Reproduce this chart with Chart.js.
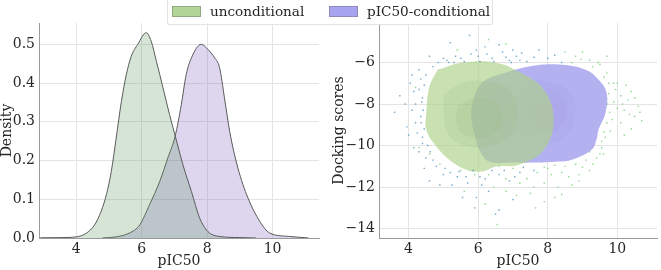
<!DOCTYPE html>
<html>
<head>
<meta charset="utf-8">
<script src="https://cdn.jsdelivr.net/npm/chart.js@4/dist/chart.umd.min.js"></script>
<style>
  html, body { margin: 0; padding: 0; background: #fff; }
  #wrap { position: relative; width: 661px; height: 270px; font-family: "DejaVu Serif", serif; }
  canvas { position: absolute; top: 0; }
  #left { left: 0; }
  #right { left: 330px; }
  #legend {
    position: absolute; left: 167px; top: 0; width: 324px; height: 24px;
    border: 1px solid #e2e2e2; border-top: none; border-radius: 0 0 3px 3px;
    background: rgba(255,255,255,0.85); z-index: 2;
    font-size: 13.6px; color: #262626; line-height: 22px;
  }
  .patch { position: absolute; top: 6px; width: 27px; height: 9px; border: 1px solid rgba(90,90,90,0.35); }
  .lbl { position: absolute; top: 0; white-space: nowrap; }
</style>
</head>
<body>
<div id="wrap">
  <canvas id="left" width="330" height="270"></canvas>
  <canvas id="right" width="331" height="270"></canvas>
  <div id="legend">
    <div class="patch" style="left:4px;background:#b3d598"></div>
    <div class="lbl" style="left:42px">unconditional</div>
    <div class="patch" style="left:161px;background:#a9a4ef"></div>
    <div class="lbl" style="left:199px">pIC50-conditional</div>
  </div>
</div>
<script>
const FONT = "DejaVu Serif";
const INK = "#262626";

// left panel: KDE of pIC50 (x, density)
const uncondKde = [[2.9,0.0005],[3.5,0.001],[4.0,0.003],[4.3,0.012],[4.56,0.034],[4.76,0.069],[4.92,0.112],
  [5.07,0.172],[5.22,0.258],[5.38,0.353],[5.53,0.422],[5.68,0.469],[5.88,0.50],[6.14,0.53],[6.29,0.508],
  [6.45,0.456],[6.65,0.388],[6.85,0.319],[7.02,0.265],[7.26,0.189],[7.52,0.12],[7.77,0.052],[8.02,0.017],
  [8.38,0.004],[9.0,0.001],[9.5,0.0]];
const condKde = [[4.8,0.0],[5.22,0.003],[5.63,0.013],[5.94,0.034],[6.24,0.086],[6.55,0.146],[6.8,0.207],
  [7.02,0.262],[7.21,0.344],[7.36,0.422],[7.52,0.465],[7.82,0.50],[8.02,0.487],[8.23,0.465],[8.38,0.44],
  [8.53,0.362],[8.69,0.275],[8.94,0.181],[9.25,0.103],[9.61,0.043],[9.91,0.013],[10.52,0.004],[11.1,0.0]];
const densityTicks = [0, 0.1, 0.2, 0.3, 0.4, 0.5];
const pic50Ticks = [4, 6, 8, 10];
const dockTicks = [-14, -12, -10, -8, -6];

// right panel: sparse scatter points (pIC50, docking score)
const tealPts = [[3.75,-7.6],[3.6,-8.4],[3.95,-9.1],[4.05,-7.0],[4.3,-6.35],[4.6,-5.7],[5.2,-5.05],[5.75,-4.7],
  [5.95,-5.4],[6.2,-5.25],[6.6,-5.15],[7.0,-5.4],[7.25,-5.55],[7.75,-5.4],[8.0,-5.8],[8.2,-5.65],[4.3,-7.3],
  [4.4,-7.7],[4.2,-8.0],[4.35,-8.6],[4.25,-9.4],[4.4,-9.9],[4.3,-10.3],[4.5,-10.6],[4.6,-11.7],[4.9,-11.9],
  [5.25,-11.9],[5.55,-12.5],[5.95,-12.5],[5.9,-13.0],[6.5,-13.3],[6.6,-13.1],[5.0,-11.4],[5.4,-11.5],
  [6.2,-11.6],[6.6,-11.4],[6.9,-11.7],[7.2,-11.3],[7.6,-11.2],[5.1,-5.9],[5.5,-5.8],[6.0,-5.7],[6.4,-5.8],
  [6.8,-5.75],[7.2,-5.9],[4.7,-6.2],[4.5,-6.6],[4.15,-7.4],[4.1,-8.3],[4.2,-8.9],[4.45,-11.1],[5.7,-11.8],
  [6.3,-12.2],[7.0,-12.6],[5.3,-6.0],[6.9,-5.9],[8.4,-6.0],[4.8,-11.0],[6.1,-11.9],
  [4.35,-6.8],[4.45,-7.1],[4.38,-7.9],[4.42,-8.3],[4.36,-8.9],[4.45,-9.2],[4.4,-9.6],[4.55,-10.0],[4.62,-10.3],
  [4.7,-10.7],[4.85,-6.0],[5.0,-5.8],[5.15,-6.0],[5.35,-5.7],[5.6,-5.95],[5.8,-5.6],[6.05,-5.95],[6.25,-5.6],
  [6.45,-5.95],[6.7,-5.5],[6.95,-6.0],[7.1,-5.7],[7.4,-5.95],[7.6,-5.75],[5.05,-11.1],[5.2,-11.3],[5.45,-11.25],
  [5.65,-11.5],[5.85,-11.2],[6.05,-11.5],[6.4,-11.2],[6.75,-11.2],[7.05,-11.5],[7.3,-11.05],[4.1,-6.6],[3.9,-8.0],
  [4.0,-9.5],[4.15,-10.1]];
const greenPts = [[9.75,-7.0],[9.95,-7.3],[10.1,-7.6],[10.3,-7.8],[10.6,-8.1],[10.0,-8.2],[9.85,-8.75],[10.1,-8.9],
  [10.5,-8.6],[9.65,-9.6],[9.55,-10.1],[9.4,-10.6],[9.0,-11.05],[8.6,-11.5],[8.4,-12.35],[8.3,-12.0],[7.65,-13.0],
  [7.5,-12.3],[9.7,-6.5],[9.5,-6.1],[9.2,-5.9],[8.8,-5.7],[8.5,-5.5],[9.9,-7.9],[10.2,-8.3],[10.4,-9.2],
  [9.8,-9.3],[9.2,-11.2],[8.9,-11.4],[8.1,-11.4],[7.9,-11.8],[7.4,-11.6],[7.0,-11.1],[6.6,-11.0],[6.3,-11.4],
  [5.9,-11.4],[5.5,-11.2],[6.8,-12.2],[7.1,-12.4],[7.9,-12.7],[6.2,-12.8],[5.6,-12.2],[9.6,-10.4],[9.3,-10.9],
  [8.7,-11.9],[8.0,-11.1],[10.4,-7.4],[10.0,-7.0],[9.7,-5.7],[9.0,-5.5],[6.3,-4.9],[6.8,-5.1],[5.4,-5.4],
  [4.2,-7.2],[4.3,-10.1],[4.6,-10.4],[4.9,-10.9],[6.55,-13.8],
  [9.62,-6.7],[9.75,-7.5],[9.72,-8.0],[9.78,-8.4],[9.7,-8.9],[9.62,-9.35],[9.55,-9.8],[9.9,-7.0],[10.25,-7.1],
  [10.15,-8.0],[10.35,-8.5],[10.65,-8.4],[10.2,-9.5],[9.45,-6.0],[9.3,-6.2],[8.95,-5.85],[8.7,-6.0],[9.5,-10.4],
  [9.1,-10.7],[8.8,-10.9],[8.5,-11.0],[8.2,-10.95],[7.9,-11.05],[7.7,-11.3],[8.4,-11.3],[8.9,-11.7],[7.2,-11.8],
  [6.8,-11.6],[6.45,-12.0],[7.6,-12.0],[8.2,-12.5],[9.2,-10.3],[10.5,-7.7],[10.7,-8.8]];

// right panel: KDE contour outlines
const uncondLevel1 = [[4.83,-6.35],[5.54,-6.01],[6.51,-6.01],[7.17,-6.45],[7.89,-7.31],[8.17,-8.76],[7.89,-10.2],
  [7.17,-10.92],[6.51,-11.01],[6.11,-11.25],[5.66,-11.16],[5.17,-10.68],[4.8,-10.05],[4.51,-9.24],[4.51,-8.42],
  [4.6,-7.17]];
const uncondLevel2 = [[5.0,-7.6],[5.5,-7.0],[6.2,-6.9],[6.8,-7.2],[7.1,-8.0],[7.0,-9.3],[6.4,-10.0],[5.6,-10.0],[5.1,-9.3]];
const uncondLevel3 = [[5.4,-8.1],[5.9,-7.7],[6.5,-7.9],[6.7,-8.7],[6.4,-9.5],[5.8,-9.6],[5.4,-9.1]];
const condLevel1 = [[6.4,-6.69],[7.46,-6.2],[8.31,-6.1],[9.09,-6.35],[9.46,-6.83],[9.69,-7.46],[9.66,-8.42],
  [9.46,-9.24],[9.4,-9.72],[9.26,-10.2],[8.69,-10.68],[8.31,-10.77],[7.66,-10.82],[6.97,-10.82],[6.31,-10.77],
  [6.03,-10.2],[5.94,-9.72],[5.8,-8.61],[5.89,-7.65],[6.11,-6.98]];
const condLevel2 = [[6.5,-7.4],[7.2,-6.9],[8.0,-6.9],[8.6,-7.3],[8.8,-8.2],[8.6,-9.4],[8.0,-9.9],[7.0,-9.8],[6.5,-9.2],[6.3,-8.3]];
const condLevel3 = [[6.9,-7.9],[7.5,-7.4],[8.2,-7.3],[8.5,-7.8],[8.5,-8.8],[8.1,-9.3],[7.4,-9.3],[6.9,-8.9]];
const condLevel4 = [[7.5,-8.1],[8.0,-7.7],[8.4,-7.8],[8.5,-8.5],[8.3,-9.2],[7.8,-9.3],[7.5,-8.8]];

const pts = (arr) => arr.map(([x, y]) => ({ x, y }));
const closed = (arr) => pts(arr.concat([arr[0]]));
const minus = (v) => (v < 0 ? "\u2212" + Math.abs(v) : String(v));

function axis(min, max, ticks, title, fmt, size, titlePad) {
  return {
    type: "linear", min, max,
    afterBuildTicks: (s) => { s.ticks = ticks.map((value) => ({ value })); },
    afterFit: (s) => { if (s.isHorizontal()) s.height = size; else s.width = size; },
    grid: { color: "#e4e4e4", lineWidth: 1, drawTicks: false },
    border: { display: true, color: "#9a9a9a", width: 1 },
    ticks: { color: INK, font: { family: FONT, size: 14, lineHeight: 1 }, padding: 4, callback: fmt },
    title: { display: true, text: title, color: INK, font: { family: FONT, size: 14, lineHeight: 1 }, padding: titlePad },
  };
}

function kdeSet(data, color) {
  return {
    data: pts(data), showLine: true, fill: "origin", backgroundColor: color,
    borderColor: "#5a5a5a", borderWidth: 1, pointRadius: 0, cubicInterpolationMode: "monotone",
  };
}

new Chart(document.getElementById("left"), {
  type: "scatter",
  data: {
    datasets: [
      kdeSet(uncondKde, "rgba(91,147,91,0.25)"),
      kdeSet(condKde, "rgba(119,91,187,0.25)"),
    ],
  },
  options: {
    responsive: false, animation: false, events: [],
    layout: { padding: { top: 23, right: 11, left: 0, bottom: 0 } },
    plugins: { legend: { display: false }, tooltip: { enabled: false } },
    scales: {
      x: axis(2.86, 11.42, pic50Ticks, "pIC50", (v) => String(v), 32, { top: 0, bottom: 2 }),
      y: axis(0, 0.555, densityTicks, "Density", (v) => v.toFixed(1), 39, { top: 0, bottom: 0 }),
    },
  },
});

function contour(data, color) {
  return {
    data: closed(data), showLine: true, fill: "shape", backgroundColor: color,
    borderWidth: 0, pointRadius: 0, tension: 0.4,
  };
}
function dots(data, color) {
  return { data: pts(data), backgroundColor: color, borderWidth: 0, pointRadius: 1, pointStyle: "rect" };
}

new Chart(document.getElementById("right"), {
  type: "scatter",
  data: {
    datasets: [
      dots(tealPts, "rgba(70,140,185,0.75)"),
      dots(greenPts, "rgba(110,200,105,0.75)"),
      contour(uncondLevel1, "rgba(176,210,140,0.68)"),
      contour(uncondLevel2, "rgba(110,140,115,0.2)"),
      contour(uncondLevel3, "rgba(110,140,115,0.2)"),
      contour(condLevel1, "rgba(172,168,240,0.9)"),
      contour(condLevel2, "rgba(110,105,150,0.24)"),
      contour(condLevel3, "rgba(110,105,150,0.24)"),
      contour(condLevel4, "rgba(110,100,150,0.24)"),
    ],
  },
  options: {
    responsive: false, animation: false, events: [],
    layout: { padding: { top: 23, right: 2, left: 0, bottom: 0 } },
    plugins: { legend: { display: false }, tooltip: { enabled: false } },
    scales: {
      x: axis(3.15, 11.14, pic50Ticks, "pIC50", (v) => String(v), 32, { top: 0, bottom: 2 }),
      y: axis(-14.45, -4.1, dockTicks, "Docking scores", minus, 49, { top: 2, bottom: 0 }),
    },
  },
});
</script>
</body>
</html>
